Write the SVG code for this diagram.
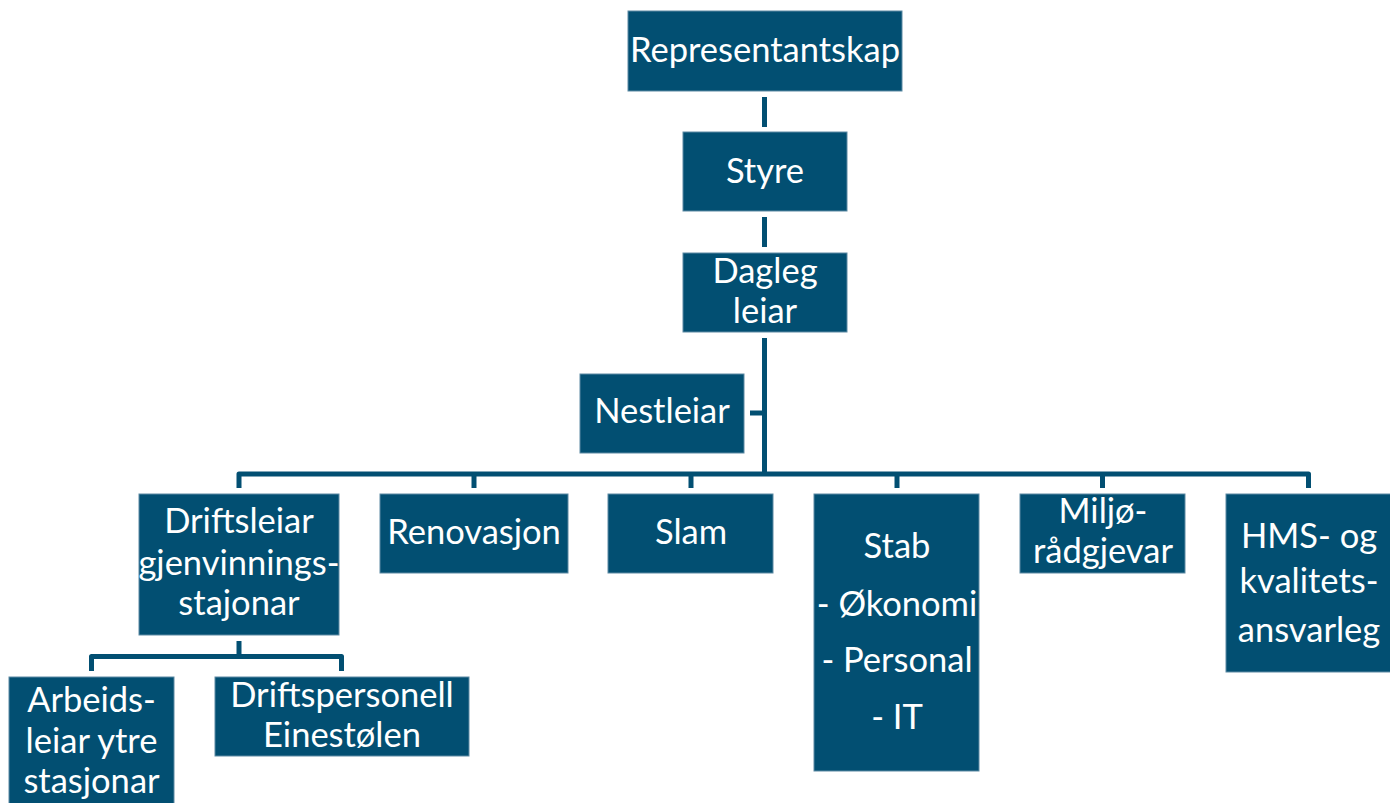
<svg xmlns="http://www.w3.org/2000/svg" width="1390" height="803" viewBox="0 0 1390 803">
<style>
.box{fill:#024f72;stroke:#5d8aa3;stroke-width:1}
.lbl{font-family:Lato,"Liberation Sans",sans-serif;font-size:34.5px;fill:#ffffff;text-anchor:middle}
.con{fill:none;stroke:#024f72;stroke-width:5;stroke-linejoin:round}
</style>
<rect width="1390" height="803" fill="#ffffff"/>
<g id="connectors">
<line class="con" x1="764.5" y1="97" x2="764.5" y2="127"/>
<line class="con" x1="764.5" y1="217" x2="764.5" y2="247"/>
<line class="con" x1="764.5" y1="338" x2="764.5" y2="474"/>
<line class="con" x1="750" y1="413" x2="764.5" y2="413" stroke-width="4"/>
<path class="con" d="M239,488 V474 H1308.5 V488"/>
<line class="con" x1="474" y1="474" x2="474" y2="488"/>
<line class="con" x1="691" y1="474" x2="691" y2="488"/>
<line class="con" x1="897" y1="474" x2="897" y2="488"/>
<line class="con" x1="1102.5" y1="474" x2="1102.5" y2="488"/>
<line class="con" x1="239" y1="641" x2="239" y2="656.5"/>
<path class="con" d="M91.5,671 V656.5 H341.5 V671"/>
</g>
<g id="representantskap">
<rect class="box" x="628" y="11" width="274" height="80"/>
<text class="lbl" x="765" y="62">Representantskap</text>
</g>
<g id="styre">
<rect class="box" x="683" y="132" width="164" height="79"/>
<text class="lbl" x="765" y="183">Styre</text>
</g>
<g id="dagleg-leiar">
<rect class="box" x="683" y="253" width="164" height="79"/>
<text class="lbl" x="765" y="283">Dagleg</text>
<text class="lbl" x="765" y="323">leiar</text>
</g>
<g id="nestleiar">
<rect class="box" x="580" y="374" width="164" height="79"/>
<text class="lbl" x="662" y="423">Nestleiar</text>
</g>
<g id="driftsleiar">
<rect class="box" x="139" y="494" width="200" height="141"/>
<text class="lbl" x="239" y="533">Driftsleiar</text>
<text class="lbl" x="239" y="575">gjenvinnings-</text>
<text class="lbl" x="239" y="615">stajonar</text>
</g>
<g id="renovasjon">
<rect class="box" x="380" y="494" width="188" height="79"/>
<text class="lbl" x="474" y="544">Renovasjon</text>
</g>
<g id="slam">
<rect class="box" x="608" y="494" width="165" height="79"/>
<text class="lbl" x="691" y="544">Slam</text>
</g>
<g id="stab">
<rect class="box" x="814" y="494" width="165" height="277"/>
<text class="lbl" x="897" y="558">Stab</text>
<text class="lbl" x="897" y="616">- Økonomi</text>
<text class="lbl" x="897" y="672">- Personal</text>
<text class="lbl" x="897" y="729">- IT</text>
</g>
<g id="miljoradgjevar">
<rect class="box" x="1020" y="494" width="165" height="79"/>
<text class="lbl" x="1103" y="523">Miljø-</text>
<text class="lbl" x="1103" y="563">rådgjevar</text>
</g>
<g id="hms">
<rect class="box" x="1226" y="494" width="166" height="178"/>
<text class="lbl" x="1309" y="548">HMS- og</text>
<text class="lbl" x="1309" y="593">kvalitets-</text>
<text class="lbl" x="1309" y="642">ansvarleg</text>
</g>
<g id="arbeidsleiar">
<rect class="box" x="9" y="677" width="165" height="135"/>
<text class="lbl" x="91.5" y="712">Arbeids-</text>
<text class="lbl" x="91.5" y="753">leiar ytre</text>
<text class="lbl" x="91.5" y="793">stasjonar</text>
</g>
<g id="driftspersonell">
<rect class="box" x="215" y="677" width="254" height="79"/>
<text class="lbl" x="342" y="707">Driftspersonell</text>
<text class="lbl" x="342" y="747">Einestølen</text>
</g>
</svg>
